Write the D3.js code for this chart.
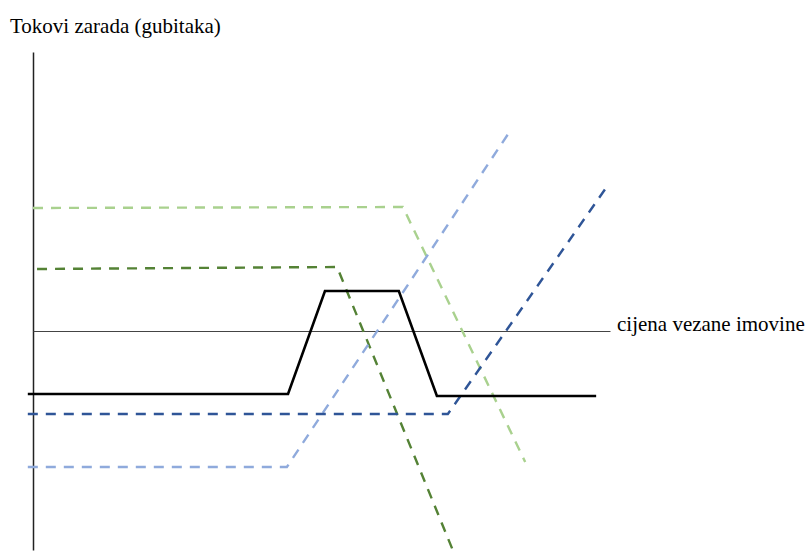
<!DOCTYPE html>
<html>
<head>
<meta charset="utf-8">
<script src="https://cdn.jsdelivr.net/npm/d3@7"></script>
<style>
  body { margin: 0; background: #fff; }
  svg { display: block; }
  .lbl { font-family: "Liberation Serif", "Times New Roman", serif; font-size: 21px; fill: #000; }
</style>
</head>
<body>
<div id="chart"></div>
<script>
// price of the underlying (0..100) and payoff values
const blackX = [-0.9, 44.2, 50.6, 63.4, 70.0, 97.6];
const blackY = [-6.3, -6.3, 4.0, 4.0, -6.5, -6.5];
const darkBlueX = [-0.9, 71.9, 99.3];
const darkBlueY = [-8.3, -8.3, 14.3];
const lightBlueX = [-0.9, 44.0, 82.8];
const lightBlueY = [-13.6, -13.6, 20.1];
const lightGreenX = [0, 64.1, 85.3];
const lightGreenY = [12.3, 12.4, -13.1];
const darkGreenX = [0.7, 52.7, 73.1];
const darkGreenY = [6.2, 6.4, -22.4];

const yAxisTitle = "Tokovi zarada (gubitaka)";
const xAxisTitle = "cijena vezane imovine";

const W = 809, H = 557;

const svg = d3.select("#chart").append("svg")
    .attr("width", W)
    .attr("height", H);

const x = d3.scaleLinear().domain([0, 100]).range([33, 610]);
const y = d3.scaleLinear().domain([-21.9, 27.9]).range([550, 52]);

// axes (no ticks, just the lines)
svg.append("g")
    .attr("transform", `translate(${x(0)},0)`)
    .call(d3.axisLeft(y).ticks(0).tickSizeOuter(0))
    .select(".domain")
    .attr("stroke", "#222")
    .attr("stroke-width", 1.5);

svg.append("g")
    .attr("transform", `translate(0,${y(0)})`)
    .call(d3.axisBottom(x).ticks(0).tickSizeOuter(0))
    .select(".domain")
    .attr("stroke", "#444")
    .attr("stroke-width", 1);

svg.append("text")
    .attr("class", "lbl")
    .attr("x", 10)
    .attr("y", 33)
    .text(yAxisTitle);

svg.append("text")
    .attr("class", "lbl")
    .attr("x", 617)
    .attr("y", y(0))
    .text(xAxisTitle);

const line = d3.line()
    .x(d => x(d[0]))
    .y(d => y(d[1]));

const series = [
    { xs: lightGreenX, ys: lightGreenY, color: "#A9D18E", dash: "10 8", width: 2.4 },
    { xs: darkGreenX, ys: darkGreenY, color: "#548235", dash: "10 8", width: 2.4 },
    { xs: lightBlueX, ys: lightBlueY, color: "#8FAADC", dash: "10 8", width: 2.4 },
    { xs: darkBlueX, ys: darkBlueY, color: "#2F5597", dash: "10 8", width: 2.4 },
    { xs: blackX, ys: blackY, color: "#000", dash: null, width: 2.6 }
];

svg.selectAll(".payoff")
    .data(series)
    .enter().append("path")
    .attr("class", "payoff")
    .attr("fill", "none")
    .attr("stroke", d => d.color)
    .attr("stroke-width", d => d.width)
    .attr("stroke-dasharray", d => d.dash)
    .attr("d", d => line(d.xs.map((v, i) => [v, d.ys[i]])));
</script>
</body>
</html>
